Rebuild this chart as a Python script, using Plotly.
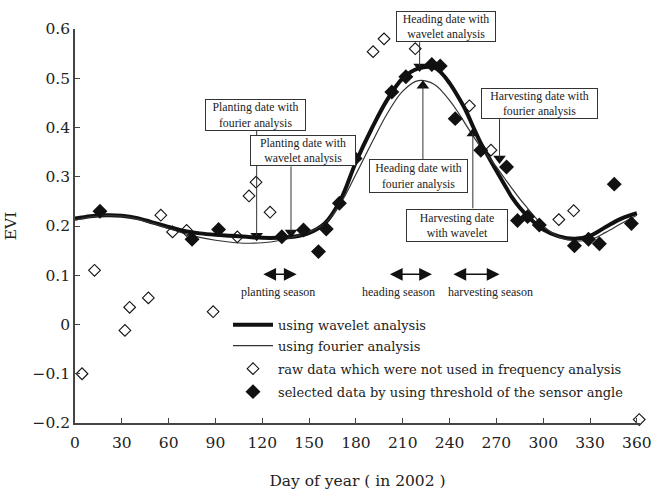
import plotly.graph_objects as go

# ---------------- data ----------------
days_curve = [0, 10, 20, 30, 40, 50, 60, 70, 80, 90, 100, 110, 120, 130, 140, 150, 160, 170,
              180, 190, 200, 210, 220, 230, 235, 240, 245, 250, 255, 260, 265, 270, 275, 280,
              285, 290, 295, 300, 310, 320, 330, 340, 350, 360]
evi_wavelet = [0.215, 0.220, 0.222, 0.221, 0.216, 0.207, 0.198, 0.190, 0.185, 0.182, 0.180,
               0.178, 0.176, 0.176, 0.178, 0.186, 0.205, 0.252, 0.330, 0.397, 0.456, 0.500,
               0.520, 0.522, 0.510, 0.490, 0.465, 0.437, 0.402, 0.368, 0.340, 0.312, 0.285,
               0.258, 0.237, 0.220, 0.205, 0.193, 0.179, 0.174, 0.180, 0.198, 0.215, 0.226]
evi_fourier = [0.212, 0.218, 0.221, 0.220, 0.214, 0.205, 0.195, 0.185, 0.177, 0.171, 0.167,
               0.165, 0.166, 0.170, 0.178, 0.188, 0.205, 0.245, 0.305, 0.368, 0.428, 0.474,
               0.495, 0.488, 0.474, 0.455, 0.433, 0.408, 0.383, 0.360, 0.340, 0.320, 0.298,
               0.276, 0.255, 0.236, 0.217, 0.200, 0.178, 0.170, 0.172, 0.187, 0.205, 0.222]

days_selected = [16, 75, 92, 132.5, 146.4, 156, 161, 169.4, 179.5, 203, 212, 228.6, 234,
                 243.6, 260, 276.5, 283.5, 290, 297.5, 320, 329, 336, 345.5, 356.5]
evi_selected = [0.230, 0.173, 0.193, 0.178, 0.192, 0.148, 0.194, 0.246, 0.337, 0.472, 0.503,
                0.528, 0.525, 0.418, 0.354, 0.320, 0.211, 0.219, 0.202, 0.160, 0.173, 0.164,
                0.285, 0.205]

days_raw = [4.5, 12.5, 32, 35, 47, 55, 62.5, 71.5, 88.5, 104, 111.5, 116, 125, 191, 198,
            218, 252.7, 266.5, 310, 319.5, 361.5]
evi_raw = [-0.100, 0.110, -0.012, 0.035, 0.054, 0.222, 0.188, 0.191, 0.026, 0.178, 0.261,
           0.289, 0.228, 0.554, 0.580, 0.560, 0.444, 0.354, 0.213, 0.231, -0.193]

event_labels = ["Planting date with<br>fourier analysis",
                "Planting date with<br>wavelet analysis",
                "Heading date with<br>wavelet analysis",
                "Heading date with<br>fourier analysis",
                "Harvesting date with<br>fourier analysis",
                "Harvesting date<br>with wavelet"]
event_days = [116.4, 138.4, 220.8, 222.9, 272.0, 254.9]
event_evi = [0.180, 0.187, 0.524, 0.485, 0.337, 0.388]
event_symbol = ["triangle-down", "triangle-down", "triangle-down", "triangle-up",
                "triangle-down", "triangle-up"]

season_names = ["planting season", "heading season", "harvesting season"]
season_start = [119.7, 200.8, 241.5]
season_end = [142.0, 228.7, 272.0]

legend_names = ["using wavelet analysis", "using fourier analysis",
                "raw data which were not used in frequency analysis",
                "selected data by using threshold of the sensor angle"]

x_ticks = list(range(0, 361, 30))
y_ticks = [-0.2, -0.1, 0, 0.1, 0.2, 0.3, 0.4, 0.5, 0.6]

# ---------------- layout placement of annotation boxes ----------------
Y_TOP = 0.6
PX_PER_UNIT = 492.5
box_x = [115.4, 146.2, 238.0, 219.9, 297.6, 245.0]
box_y = [0.4254, 0.353, 0.605, 0.301, 0.449, 0.202]
box_edge_y = [0.393, 0.321, 0.573, 0.335, 0.417, 0.236]
box_w = [101, 106, 100, 99, 117, 102]
box_h = [32, 31, 31, 34, 31, 33]
season_y = 0.102
season_label_y = 0.066
season_label_x = [130.3, 207.5, 266.0]
legend_x = 0.2708
legend_rows = [0.2495, 0.1962, 0.1378, 0.0795]

SERIF = "DejaVu Serif"
TIMES = "Liberation Serif"
INK = "#222222"

fig = go.Figure()

fig.add_trace(go.Scatter(x=days_curve, y=evi_wavelet, mode="lines", name=legend_names[0],
                         line=dict(color="#111111", width=4), line_shape="spline",
                         legend="legend", hoverinfo="skip"))
fig.add_trace(go.Scatter(x=days_curve, y=evi_fourier, mode="lines", name=legend_names[1],
                         line=dict(color="#333333", width=1.2), line_shape="spline",
                         legend="legend2", hoverinfo="skip"))
fig.add_trace(go.Scatter(x=days_raw, y=evi_raw, mode="markers", name=legend_names[2],
                         marker=dict(symbol="diamond-open", size=9, color="#111111",
                                     line=dict(width=1.1)),
                         legend="legend3", cliponaxis=False, hoverinfo="skip"))
fig.add_trace(go.Scatter(x=days_selected, y=evi_selected, mode="markers", name=legend_names[3],
                         marker=dict(symbol="diamond", size=11.5, color="#111111"),
                         legend="legend4", hoverinfo="skip"))

# connector lines from boxes to event markers
for d, v, e in zip(event_days, event_evi, box_edge_y):
    fig.add_shape(type="line", x0=d, x1=d, y0=v, y1=e, xref="x", yref="y",
                  line=dict(color="#333333", width=1))

fig.add_trace(go.Scatter(x=event_days, y=event_evi, mode="markers", showlegend=False,
                         marker=dict(symbol=event_symbol, size=11, color="#111111"),
                         hoverinfo="skip"))

annotations = []
for t, bx, by, w, h in zip(event_labels, box_x, box_y, box_w, box_h):
    ya = min(by, Y_TOP)
    annotations.append(dict(x=bx, y=ya, yshift=(by - ya) * PX_PER_UNIT,
                            xref="x", yref="y", text=t, showarrow=False,
                            font=dict(family=TIMES, size=11.8, color=INK),
                            bordercolor="#333333", borderwidth=1, borderpad=0,
                            bgcolor="white", width=w - 2, height=h - 2, align="center"))

for s0, s1 in zip(season_start, season_end):
    annotations.append(dict(x=s1, y=season_y, ax=s0, ay=season_y, xref="x", yref="y",
                            axref="x", ayref="y", text="", showarrow=True,
                            arrowside="end+start", arrowhead=2, arrowsize=1.7,
                            arrowwidth=1.5, arrowcolor="#111111"))
for name, lx in zip(season_names, season_label_x):
    annotations.append(dict(x=lx, y=season_label_y, xref="x", yref="y", text=name,
                            showarrow=False, font=dict(family=TIMES, size=12, color=INK)))

legend_common = dict(x=legend_x, xanchor="left", yanchor="middle",
                     bgcolor="rgba(0,0,0,0)", font=dict(family=SERIF, size=13, color=INK),
                     itemwidth=40)
legends = {}
for key, row in zip(["legend", "legend2", "legend3", "legend4"], legend_rows):
    legends[key] = dict(legend_common, y=row)

fig.update_layout(
    width=651, height=494,
    margin=dict(l=75, r=11, t=29, b=71),
    paper_bgcolor="white", plot_bgcolor="white",
    font=dict(family=SERIF, color=INK),
    showlegend=True,
    annotations=annotations,
    xaxis=dict(range=[0, 362], tickvals=x_ticks, ticks="inside", ticklen=5,
               tickcolor="#444444", showline=True, linecolor="#444444", linewidth=1.5,
               showgrid=False, zeroline=False, mirror=False, automargin=False,
               ticklabelstandoff=5, ticklabeloverflow="allow",
               tickfont=dict(family=SERIF, size=15.5, color=INK),
               title=dict(text="Day of year ( in 2002 )",
                          font=dict(family=SERIF, size=15.5, color=INK), standoff=24)),
    yaxis=dict(range=[-0.2, 0.6], tickvals=y_ticks, ticks="inside", ticklen=5,
               tickcolor="#444444", showline=True, linecolor="#444444", linewidth=1.5,
               showgrid=False, zeroline=False, tickformat=".1~f", automargin=False,
               ticklabeloverflow="allow",
               tickfont=dict(family=SERIF, size=15.5, color=INK),
               title=dict(text="EVI", font=dict(family=SERIF, size=15.5, color=INK),
                          standoff=12)),
    **legends,
)

fig.write_html("out.html", config={"displayModeBar": False},
               post_script="document.body.style.margin='0';")
